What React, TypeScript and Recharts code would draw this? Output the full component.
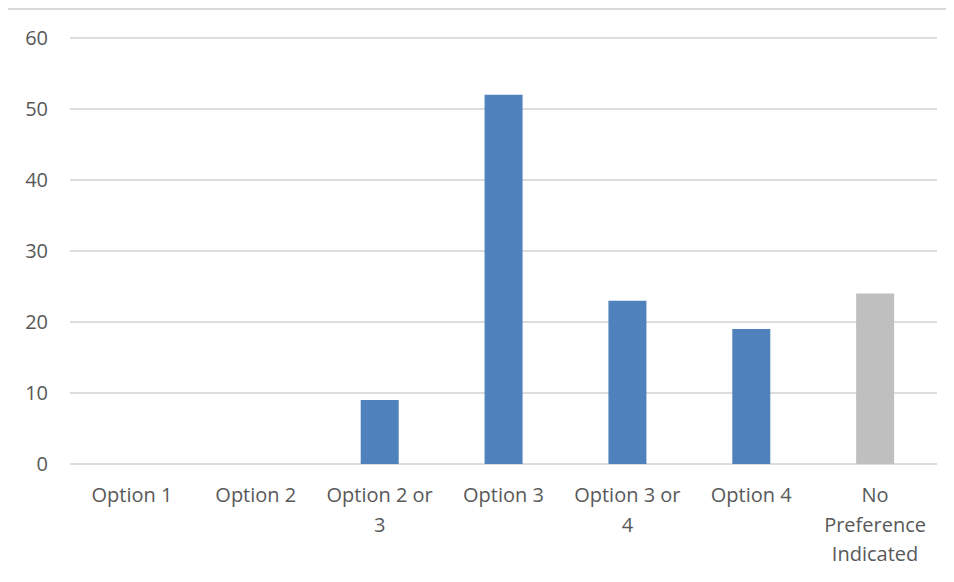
import { BarChart, Bar, XAxis, YAxis, CartesianGrid, Cell } from "recharts";

const categories = [
  "Option 1",
  "Option 2",
  "Option 2 or 3",
  "Option 3",
  "Option 3 or 4",
  "Option 4",
  "No Preference Indicated",
];
const responses = [0, 0, 9, 52, 23, 19, 24];
const yTicks = [0, 10, 20, 30, 40, 50, 60];

const data = categories.map((name, i) => ({ name, value: responses[i] }));

const FONT = "'Open Sans', sans-serif";
const FONT_SIZE = 20;
const TEXT_COLOR = "#595959";
const BLUE = "#4F81BD";
const GREY = "#BFBFBF";
const LABEL_WIDTH = 116;
const LINE_HEIGHT = 29.5;

let ctx: CanvasRenderingContext2D | null = null;
function measure(s: string) {
  if (!ctx) {
    ctx = document.createElement("canvas").getContext("2d");
    if (ctx) ctx.font = `${FONT_SIZE}px 'Open Sans'`;
  }
  return ctx ? ctx.measureText(s).width : s.length * FONT_SIZE * 0.55;
}

// greedy word wrap into lines no wider than the category slot
function wrap(label: string) {
  const lines: string[] = [];
  let cur = "";
  for (const w of label.split(" ")) {
    const next = cur ? cur + " " + w : w;
    if (cur && measure(next) > LABEL_WIDTH) {
      lines.push(cur);
      cur = w;
    } else {
      cur = next;
    }
  }
  if (cur) lines.push(cur);
  return lines;
}

function CategoryTick(props: any) {
  const { x, y, payload } = props;
  const lines = wrap(String(payload.value));
  return (
    <text
      x={x}
      y={y + 38}
      textAnchor="middle"
      fill={TEXT_COLOR}
      fontSize={FONT_SIZE}
      fontFamily={FONT}
    >
      {lines.map((line, i) => (
        <tspan key={i} x={x} dy={i === 0 ? 0 : LINE_HEIGHT}>
          {line}
        </tspan>
      ))}
    </text>
  );
}

export default function App() {
  return (
    <div
      style={{
        marginLeft: -2,
        width: 952,
        borderLeft: "2px solid #D9D9D9",
        borderTop: "2px solid #D9D9D9",
      }}
    >
      <BarChart
        width={946}
        height={572}
        data={data}
        margin={{ top: 28, right: 17, bottom: 8, left: 0 }}
      >
        <CartesianGrid vertical={false} stroke="#DDDDDD" strokeWidth={2} />
        <XAxis
          dataKey="name"
          interval={0}
          axisLine={false}
          tickLine={false}
          tickSize={0}
          tickMargin={0}
          height={110}
          tick={<CategoryTick />}
        />
        <YAxis
          domain={[0, 60]}
          ticks={yTicks}
          width={62}
          axisLine={false}
          tickLine={false}
          tickSize={0}
          tickMargin={22}
          tick={{ fill: TEXT_COLOR, fontSize: FONT_SIZE, fontFamily: FONT }}
        />
        <Bar dataKey="value" barSize={38} isAnimationActive={false}>
          {data.map((d, i) => (
            <Cell key={d.name} fill={i === data.length - 1 ? GREY : BLUE} />
          ))}
        </Bar>
      </BarChart>
    </div>
  );
}
